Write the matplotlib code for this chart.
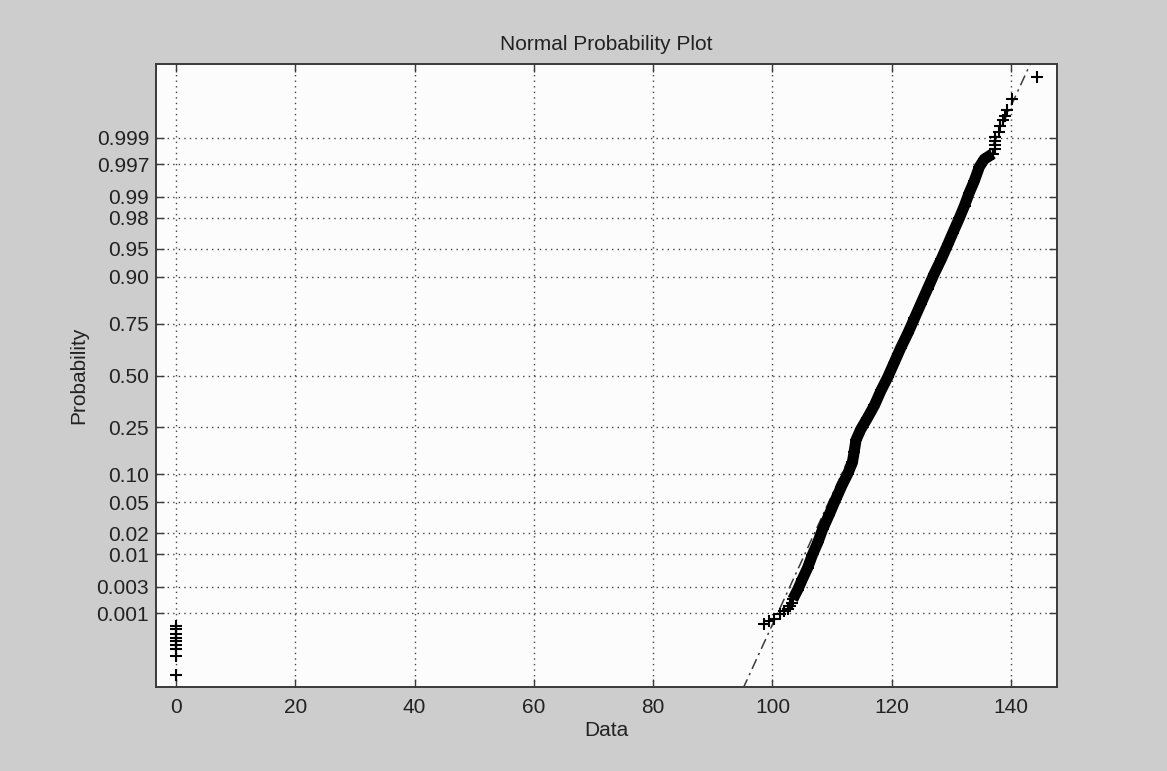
import math
import numpy as np
import matplotlib
matplotlib.use("Agg")
import matplotlib.pyplot as plt
from matplotlib.ticker import FixedLocator, NullLocator, FixedFormatter

plt.rcParams['font.family'] = ['Liberation Sans', 'DejaVu Sans']

# ---------------- data ----------------
# dense central band of the sorted sample: data value vs. plotting probability
band_x = [103.4, 104.2, 105.0, 105.9, 106.7, 107.6, 108.4, 109.5, 110.6, 111.7,
          112.6, 113.4, 113.7, 114.0, 114.8, 115.9, 117.1, 118.2, 119.3, 120.4,
          121.5, 122.7, 123.8, 124.9, 126.0, 127.1, 128.3, 129.4, 130.2, 131.3,
          132.2, 133.0, 133.8, 134.7, 135.5, 136.9]
band_p = [0.001807, 0.002635, 0.004025, 0.006210, 0.009903, 0.01500, 0.02275,
          0.03515, 0.05370, 0.07780, 0.10027, 0.12924, 0.16109, 0.20045, 0.24196,
          0.28945, 0.34938, 0.42309, 0.48963, 0.56592, 0.64020, 0.70918, 0.77127,
          0.82537, 0.87034, 0.90658, 0.93486, 0.95590, 0.96777, 0.97942, 0.98645,
          0.99130, 0.99418, 0.99669, 0.99753, 0.99803]

# individual points in the lower tail
low_x = [98.6, 99.4, 100.2, 101.3, 102.0, 102.6, 103.0, 103.2]
low_p = [6.19e-4, 7.11e-4, 7.89e-4, 9.68e-4, 1.107e-3, 1.223e-3, 1.350e-3, 1.538e-3]

# individual points in the upper tail
high_x = [137.3, 137.3, 137.3, 137.3, 137.9, 138.2, 138.7, 139.0, 139.3, 140.1, 144.4]
high_p = [0.99841, 0.99865, 0.998856, 0.999032, 0.999238, 0.999402, 0.99955,
          0.999624, 0.99972, 0.999841, 0.999949]

# values recorded as zero
zero_x = [0, 0, 0, 0, 0, 0, 0, 0, 0]
zero_p = [5.65e-4, 4.83e-4, 3.97e-4, 3.25e-4, 2.80e-4, 2.33e-4, 1.85e-4, 1.36e-4, 4.8e-5]

# reference line through the quartiles
q1_value = 115.2
q3_value = 123.2

prob_ticks = [0.001, 0.003, 0.01, 0.02, 0.05, 0.10, 0.25, 0.50, 0.75, 0.90,
              0.95, 0.98, 0.99, 0.997, 0.999]
prob_labels = ['0.001', '0.003', '0.01', '0.02', '0.05', '0.10', '0.25', '0.50',
               '0.75', '0.90', '0.95', '0.98', '0.99', '0.997', '0.999']
x_ticks = [0, 20, 40, 60, 80, 100, 120, 140]
x_labels = ['0', '20', '40', '60', '80', '100', '120', '140']


# ---------------- normal probability scale ----------------
_erfc = np.vectorize(math.erfc, otypes=[float])


def norm_cdf(z):
    z = np.asarray(z, dtype=float)
    return 0.5 * _erfc(-z / math.sqrt(2.0))


_a = [-3.969683028665376e+01, 2.209460984245205e+02, -2.759285104469687e+02,
      1.383577518672690e+02, -3.066479806614716e+01, 2.506628277459239e+00]
_b = [-5.447609879822406e+01, 1.615858368580409e+02, -1.556989798598866e+02,
      6.680131188771972e+01, -1.328068155288572e+01]
_c = [-7.784894002430293e-03, -3.223964580411365e-01, -2.400758277161838e+00,
      -2.549732539343734e+00, 4.374664141464968e+00, 2.938163982698783e+00]
_d = [7.784695709041462e-03, 3.224671290700398e-01, 2.445134137142996e+00,
      3.754408661907416e+00]


def norm_ppf(p):
    p = np.clip(np.asarray(p, dtype=float), 1e-15, 1 - 1e-15)
    out = np.empty_like(p)
    plow = 0.02425
    lo = p < plow
    hi = p > 1 - plow
    mid = ~(lo | hi)
    with np.errstate(all='ignore'):
        q = np.sqrt(-2 * np.log(p[lo]))
        out[lo] = (((((_c[0]*q+_c[1])*q+_c[2])*q+_c[3])*q+_c[4])*q+_c[5]) / \
                  ((((_d[0]*q+_d[1])*q+_d[2])*q+_d[3])*q+1)
        q = np.sqrt(-2 * np.log(1 - p[hi]))
        out[hi] = -(((((_c[0]*q+_c[1])*q+_c[2])*q+_c[3])*q+_c[4])*q+_c[5]) / \
                   ((((_d[0]*q+_d[1])*q+_d[2])*q+_d[3])*q+1)
        q = p[mid] - 0.5
        r = q * q
        out[mid] = (((((_a[0]*r+_a[1])*r+_a[2])*r+_a[3])*r+_a[4])*r+_a[5])*q / \
                   (((((_b[0]*r+_b[1])*r+_b[2])*r+_b[3])*r+_b[4])*r+1)
    return out


# ---------------- figure ----------------
W, H = 1167, 771
fig = plt.figure(figsize=(W / 100, H / 100), dpi=100, facecolor='#cdcdcd')
left, right, top, bottom = 156, 1057, 64, 687
ax = fig.add_axes([left / W, 1 - bottom / H, (right - left) / W, (bottom - top) / H])
ax.set_facecolor('#fcfcfc')
ax.set_yscale('function', functions=(norm_ppf, norm_cdf))

ink = '#222222'

# reference line (dash-dot) through quartiles, extended across the plot
zq = float(norm_ppf(0.75))
mu = 0.5 * (q1_value + q3_value)
sig = (q3_value - q1_value) / (2 * zq)
zl = np.array([-4.6, 4.6])
ax.plot(mu + sig * zl, norm_cdf(zl), color='#3a3a3a', lw=1.1,
        linestyle=(0, (7, 3, 1.5, 3)), zorder=2)

# dense band
ax.plot(band_x, band_p, '-', color='k', lw=8, solid_capstyle='butt',
        solid_joinstyle='miter', zorder=3)
mk = dict(linestyle='none', marker='+', color='k', ms=9, mew=1.5, zorder=4)
ax.plot(band_x, band_p, **mk)
ax.plot(low_x, low_p, **mk)
ax.plot(high_x, high_p, **mk)
ax.plot(zero_x, zero_p, **mk)

ax.set_xlim(-3.35, 147.7)
ax.set_ylim(2.56e-5, 1 - 2.56e-5)

ax.xaxis.set_major_locator(FixedLocator(x_ticks))
ax.xaxis.set_major_formatter(FixedFormatter(x_labels))
ax.yaxis.set_major_locator(FixedLocator(prob_ticks))
ax.yaxis.set_major_formatter(FixedFormatter(prob_labels))
ax.yaxis.set_minor_locator(NullLocator())
ax.xaxis.set_minor_locator(NullLocator())

ax.grid(True, linestyle=(0, (1, 3)), color='#444444', lw=1.0)
ax.set_axisbelow(True)

ax.tick_params(direction='in', length=6, width=1.0, top=True, right=True,
               labelsize=15, colors='#3a3a3a', labelcolor=ink)
ax.tick_params(axis='y', pad=5)
ax.tick_params(axis='x', pad=8)
for s in ax.spines.values():
    s.set_color('#3a3a3a')
    s.set_linewidth(1.4)

ax.set_title('Normal Probability Plot', fontsize=15, color=ink, pad=10)
ax.set_xlabel('Data', fontsize=15, color=ink)
ax.set_ylabel('Probability', fontsize=15, color=ink)
ax.xaxis.set_label_coords(0.5, -0.055)
ax.yaxis.set_label_coords(-0.075, 0.5)

fig.savefig('out.png', dpi=100, facecolor=fig.get_facecolor())
